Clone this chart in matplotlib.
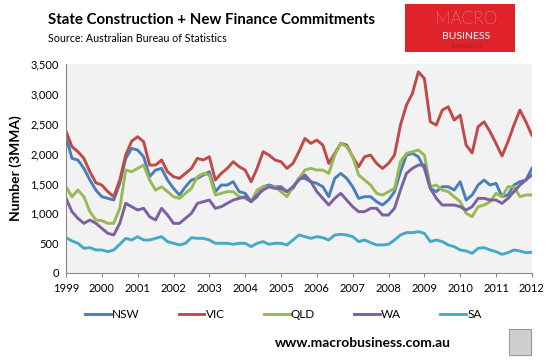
import numpy as np
import matplotlib
matplotlib.use("Agg")
import matplotlib.pyplot as plt
from matplotlib.patches import Rectangle
from matplotlib.ticker import FuncFormatter

# bi-monthly readings, 1999.0 to 2012.0
months = np.arange(0, 157, 2)
years = 1999 + months / 12.0

nsw = [2282, 1920, 1892, 1752, 1557, 1389, 1278, 1250, 1222, 1501, 1920, 2087,
       2059, 1947, 1613, 1724, 1752, 1557, 1417, 1306, 1445, 1557, 1585, 1641,
       1696, 1362, 1473, 1473, 1529, 1362, 1334, 1194, 1278, 1445, 1473, 1445,
       1445, 1362, 1417, 1585, 1585, 1529, 1501, 1445, 1278, 1585, 1668, 1585,
       1445, 1250, 1278, 1278, 1194, 1138, 1222, 1362, 1696, 1975, 2003, 1947,
       1752, 1417, 1362, 1445, 1445, 1389, 1529, 1222, 1306, 1473, 1557, 1473,
       1501, 1278, 1306, 1473, 1529, 1557, 1752]
vic = [2377, 2115, 2031, 1920, 1696, 1512, 1473, 1362, 1278, 1557, 1975, 2210,
       2282, 2199, 1808, 1808, 1892, 1696, 1613, 1585, 1668, 1752, 1920, 1892,
       1947, 1557, 1668, 1752, 1864, 1780, 1724, 1529, 1752, 2031, 1975, 1892,
       1864, 1752, 1836, 2031, 2254, 2171, 2226, 2143, 1836, 2003, 2171, 2143,
       1947, 1780, 1947, 1975, 1836, 1752, 1836, 1975, 2478, 2812, 3008, 3370,
       3259, 2533, 2478, 2729, 2784, 2561, 2645, 2143, 2010, 2450, 2533, 2366,
       2171, 1960, 2199, 2478, 2729, 2533, 2310]
qld = [1445, 1278, 1389, 1278, 1027, 887, 876, 831, 831, 1083, 1724, 1696,
       1752, 1808, 1557, 1389, 1445, 1362, 1278, 1250, 1334, 1417, 1613, 1668,
       1641, 1306, 1334, 1362, 1362, 1278, 1250, 1194, 1389, 1445, 1445, 1445,
       1362, 1278, 1445, 1585, 1724, 1752, 1724, 1724, 1668, 1975, 2171, 2115,
       1947, 1641, 1557, 1473, 1334, 1306, 1362, 1417, 1864, 2003, 2031, 2059,
       1975, 1445, 1473, 1389, 1362, 1278, 1194, 999, 943, 1110, 1138, 1194,
       1334, 1278, 1445, 1445, 1278, 1306, 1306]
wa = [1250, 1027, 915, 831, 887, 831, 748, 664, 636, 831, 1166, 1110,
      1055, 1083, 943, 887, 1083, 971, 831, 831, 915, 999, 1166, 1194,
      1222, 1083, 1110, 1166, 1222, 1250, 1278, 1194, 1306, 1389, 1445, 1417,
      1417, 1362, 1445, 1557, 1641, 1529, 1362, 1250, 1138, 1250, 1334, 1222,
      1110, 1027, 1027, 1083, 1083, 971, 971, 1083, 1389, 1668, 1752, 1808,
      1808, 1417, 1250, 1138, 1138, 1138, 1110, 1055, 1110, 1250, 1250, 1222,
      1222, 1166, 1250, 1362, 1473, 1557, 1641]
sa = [591, 536, 497, 413, 424, 385, 385, 357, 385, 480, 580, 552,
      608, 552, 552, 580, 608, 525, 497, 469, 497, 591, 580, 580,
      552, 497, 497, 497, 480, 497, 497, 441, 497, 525, 480, 497,
      497, 469, 552, 636, 608, 580, 608, 591, 552, 636, 647, 636,
      608, 525, 552, 508, 469, 469, 480, 552, 636, 675, 675, 692,
      664, 525, 552, 525, 469, 441, 385, 368, 329, 413, 424, 385,
      357, 312, 340, 385, 368, 340, 346]

series = [("NSW", nsw, "#4a7ebb"), ("VIC", vic, "#be4b48"), ("QLD", qld, "#98b954"),
          ("WA", wa, "#7d60a0"), ("SA", sa, "#46aac5")]

plt.rcParams['font.family'] = ['Lato', 'DejaVu Sans']

fig = plt.figure(figsize=(5.5, 3.62), dpi=100)
ax = fig.add_axes([0.12, 0.246, 0.847, 0.577])
ax.set_facecolor("#f2f2f2")

for name, vals, col in series:
    ax.plot(years, vals, color=col, lw=2.1, label=name, solid_joinstyle="round")

ax.set_xlim(1999, 2012)
ax.set_ylim(0, 3500)
ax.set_xticks(range(1999, 2013))
ax.set_yticks(range(0, 3501, 500))
ax.yaxis.set_major_formatter(FuncFormatter(lambda v, p: f"{int(v):,}"))
ax.tick_params(axis="x", length=3, direction="out", color="#888888", labelsize=8, pad=4)
ax.tick_params(axis="y", length=0, labelsize=8, pad=5)
for s in ["top", "right"]:
    ax.spines[s].set_visible(False)
for s in ["left", "bottom"]:
    ax.spines[s].set_color("#888888")
    ax.spines[s].set_linewidth(0.8)

ax.set_ylabel("Number (3MMA)", fontsize=10, fontweight="bold", labelpad=6)

leg = fig.legend(loc="center", bbox_to_anchor=(0.515, 0.13), ncol=5, frameon=False,
                 fontsize=8.5, handlelength=2.2, columnspacing=3.3, handletextpad=0.1)

fig.text(0.087, 0.945, "State Construction + New Finance Commitments",
         fontsize=10.8, fontweight="bold", va="center")
fig.text(0.087, 0.893, "Source: Australian Bureau of Statistics", fontsize=7.7, va="center")

# logo box
fig.patches.append(Rectangle((0.737, 0.855), 0.2, 0.135, transform=fig.transFigure,
                             facecolor="#e0232a", edgecolor="none"))
fig.text(0.848, 0.948, "MACRO", color="white", fontsize=12.5, fontweight="light",
         ha="center", va="center")
fig.text(0.848, 0.9, "BUSINESS", color="white", fontsize=7.5, ha="center", va="center")
fig.text(0.848, 0.872, "SUPERBLOG", color="#b01a20", fontsize=4, ha="center", va="center")

fig.text(0.66, 0.052, "www.macrobusiness.com.au", fontsize=10, fontweight="bold",
         ha="center", va="center")
fig.patches.append(Rectangle((0.925, 0.02), 0.04, 0.072, transform=fig.transFigure,
                             facecolor="#cfcfcf", edgecolor="#999999", lw=0.8))

fig.savefig("out.png", dpi=100)
